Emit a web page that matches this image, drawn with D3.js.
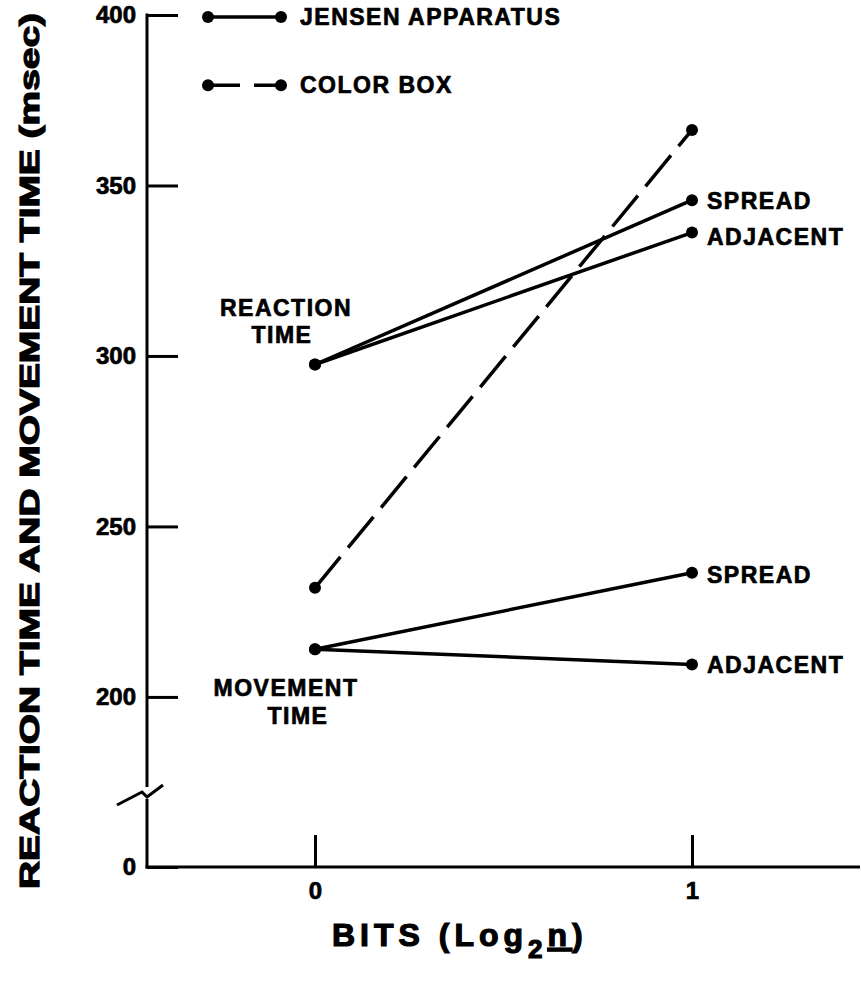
<!DOCTYPE html>
<html>
<head>
<meta charset="utf-8">
<script src="https://cdn.jsdelivr.net/npm/d3@7"></script>
<style>
  body { margin: 0; background: #fff; }
  text { font-family: "Liberation Sans", Arial, Helvetica, sans-serif; font-weight: bold; fill: #000; stroke: #000; stroke-width: 0.7px; }
</style>
</head>
<body>
<div id="chart"></div>
<script>
// data (msec)
const bits = [0, 1]
const rtSpread = [297.5, 345.7]
const rtAdjacent = [297.5, 336.2]
const colorBox = [232, 366.3]
const mtSpread = [214, 236.4]
const mtAdjacent = [214, 209.5]
const yTicks = [0, 200, 250, 300, 350, 400]
const xTicks = [0, 1]

const width = 862, height = 989
const axisX = 147, axisBreak = 172.7

const svg = d3.select("#chart")
  .append("svg")
    .attr("width", width)
    .attr("height", height)

const x = d3.scaleLinear().domain([0, 1]).range([315, 692])
// broken axis: 0 at the bottom, then jump to ~170
const y = d3.scaleLinear().domain([0, axisBreak, 400]).range([867, 790, 15])

// y axis
const yAxis = svg.append("g")
  .attr("transform", `translate(${axisX},0)`)
  .call(d3.axisLeft(y).tickValues(yTicks).tickSizeInner(-31).tickSizeOuter(0).tickPadding(11).tickFormat(d3.format("d")))
yAxis.select(".domain").remove()
yAxis.selectAll("line").attr("stroke", "#000").attr("stroke-width", 3)
yAxis.selectAll("text").style("font-size", "24px").attr("fill", "#000")

svg.append("line")
  .attr("x1", axisX).attr("x2", axisX)
  .attr("y1", y(400) - 1.5).attr("y2", y(axisBreak) - 3)
  .attr("stroke", "#000").attr("stroke-width", 3)
svg.append("line")
  .attr("x1", axisX).attr("x2", axisX)
  .attr("y1", y(axisBreak) + 9).attr("y2", y(0) + 1.5)
  .attr("stroke", "#000").attr("stroke-width", 3)

// break mark
const by = y(axisBreak)
svg.append("path")
  .attr("d", `M${axisX - 30},${by + 15} L${axisX - 5},${by + 2} L${axisX},${by + 7} L${axisX + 16},${by - 5}`)
  .attr("fill", "none").attr("stroke", "#000").attr("stroke-width", 3)

// x axis
const xAxis = svg.append("g")
  .attr("transform", `translate(0,${y(0)})`)
  .call(d3.axisBottom(x).tickValues(xTicks).tickSizeInner(-32).tickSizeOuter(0).tickPadding(15).tickFormat(d3.format("d")))
xAxis.select(".domain").remove()
xAxis.selectAll("line").attr("stroke", "#000").attr("stroke-width", 3)
xAxis.selectAll("text").style("font-size", "24px").attr("fill", "#000")

svg.append("line")
  .attr("x1", axisX - 1.5).attr("x2", 860)
  .attr("y1", y(0)).attr("y2", y(0))
  .attr("stroke", "#000").attr("stroke-width", 3)

// series
const series = [
  {values: rtSpread, dashed: false, label: "SPREAD", dy: 9},
  {values: rtAdjacent, dashed: false, label: "ADJACENT", dy: 12},
  {values: colorBox, dashed: true, label: null},
  {values: mtSpread, dashed: false, label: "SPREAD", dy: 10},
  {values: mtAdjacent, dashed: false, label: "ADJACENT", dy: 8}
]

const line = d3.line()
  .x((d, i) => x(bits[i]))
  .y(d => y(d))

series.forEach(s => {
  svg.append("path")
    .attr("d", line(s.values))
    .attr("fill", "none")
    .attr("stroke", "#000")
    .attr("stroke-width", 3.5)
    .attr("stroke-dasharray", s.dashed ? "40,12" : null)

  svg.selectAll(null)
    .data(s.values)
    .join("circle")
      .attr("cx", (d, i) => x(bits[i]))
      .attr("cy", d => y(d))
      .attr("r", 6)
      .attr("fill", "#000")

  if (s.label) {
    svg.append("text")
      .attr("x", x(1) + 15)
      .attr("y", y(s.values[1]) + s.dy)
      .style("font-size", "23px")
      .style("letter-spacing", "1.5px")
      .text(s.label)
  }
})

// group labels
const groupText = [
  {t: "REACTION", x: 286, y: 316},
  {t: "TIME", x: 282, y: 343},
  {t: "MOVEMENT", x: 286, y: 696},
  {t: "TIME", x: 298, y: 724}
]
svg.selectAll(null)
  .data(groupText)
  .join("text")
    .attr("x", d => d.x)
    .attr("y", d => d.y)
    .attr("text-anchor", "middle")
    .style("font-size", "23px")
    .style("letter-spacing", "1.5px")
    .text(d => d.t)

// legend
const legend = [
  {t: "JENSEN APPARATUS", dashed: false, y: y(400) + 2},
  {t: "COLOR BOX", dashed: true, y: y(380) + 2}
]
legend.forEach(l => {
  svg.append("line")
    .attr("x1", 208).attr("x2", 281)
    .attr("y1", l.y).attr("y2", l.y)
    .attr("stroke", "#000").attr("stroke-width", 3.5)
    .attr("stroke-dasharray", l.dashed ? "32,14" : null)
  svg.selectAll(null)
    .data([208, 281])
    .join("circle")
      .attr("cx", d => d).attr("cy", l.y).attr("r", 6).attr("fill", "#000")
  svg.append("text")
    .attr("x", 300).attr("y", l.y + 8)
    .style("font-size", "23px")
    .style("letter-spacing", "1.5px")
    .text(l.t)
})

// axis titles
svg.append("text")
  .attr("transform", "translate(39,451) rotate(-90)")
  .attr("text-anchor", "middle")
  .attr("textLength", 876)
  .attr("lengthAdjust", "spacingAndGlyphs")
  .style("font-size", "27px")
  .style("stroke-width", "1.2px")
  .text("REACTION TIME AND MOVEMENT TIME (msec)")

const xt = svg.append("text")
  .attr("x", 332).attr("y", 946)
  .style("font-size", "32px")
  .style("letter-spacing", "5px")
  .style("stroke-width", "1.2px")
xt.append("tspan").text("BITS (Log")
xt.append("tspan").attr("dy", 12).style("font-size", "26px").text("2")
xt.append("tspan").attr("dy", -12).style("text-decoration", "underline").text("n")
xt.append("tspan").text(")")
</script>
</body>
</html>
